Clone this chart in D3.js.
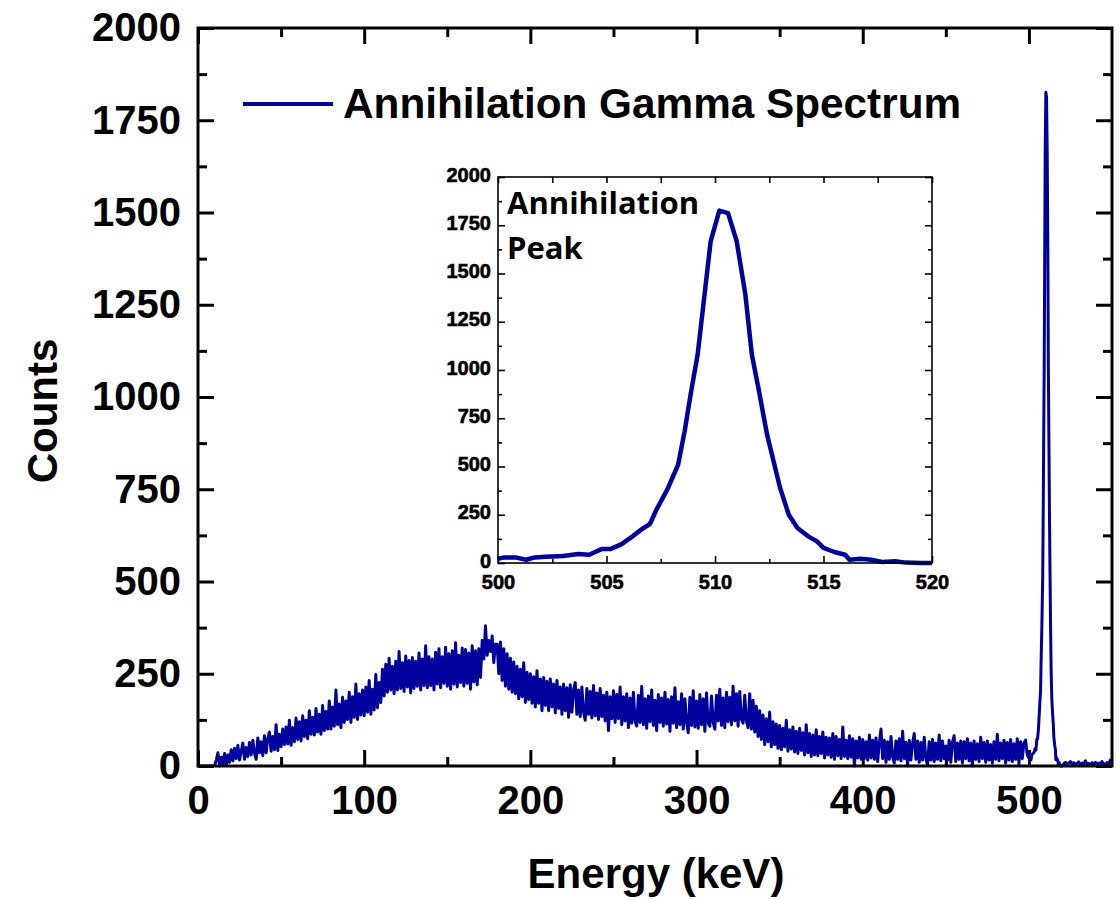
<!DOCTYPE html>
<html>
<head>
<meta charset="utf-8">
<script src="https://cdn.jsdelivr.net/npm/d3@7"></script>
<style>
  body { margin: 0; background: #fff; }
  svg { display: block; }
</style>
</head>
<body>
<svg id="chart" width="1120" height="900"></svg>
<script>
// Counts per 1 keV channel from 0 to 499 keV (Compton continuum region)
const lowCounts = [
  0, 0, 0, 0, 0, 0, 0, 0, 0, 0,
  2, 16, 36, 0, 24, 6, 34, 2, 30, 10,
  44, 14, 48, 20, 56, 16, 40, 62, 18, 50,
  26, 64, 30, 70, 34, 18, 76, 36, 66, 28,
  82, 36, 74, 92, 40, 80, 44, 112, 42, 86,
  52, 100, 58, 106, 60, 124, 56, 104, 66, 130,
  72, 120, 68, 136, 80, 124, 74, 150, 86, 132,
  84, 156, 92, 140, 86, 164, 96, 148, 100, 176,
  100, 160, 108, 206, 112, 168, 104, 186, 118, 176,
  126, 200, 118, 188, 132, 222, 126, 196, 138, 206,
  136, 214, 146, 232, 140, 208, 152, 248, 158, 226,
  172, 262, 190, 276, 200, 292, 206, 270, 196, 284,
  206, 310, 210, 280, 202, 298, 214, 286, 198, 294,
  210, 284, 216, 306, 206, 290, 218, 326, 212, 296,
  218, 290, 206, 308, 222, 318, 212, 296, 224, 322,
  216, 304, 208, 312, 222, 334, 214, 300, 226, 320,
  216, 316, 224, 306, 208, 326, 228, 312, 220, 318,
  240, 340, 290, 380, 300, 340, 310, 352, 280, 330,
  330, 250, 336, 232, 318, 216, 304, 208, 292, 200,
  282, 196, 270, 182, 262, 188, 280, 172, 254, 180,
  250, 170, 242, 160, 258, 170, 236, 150, 240, 164,
  230, 150, 236, 160, 222, 144, 232, 156, 214, 140,
  222, 150, 212, 132, 220, 146, 208, 226, 140, 206,
  134, 214, 146, 124, 210, 140, 202, 130, 218, 136,
  198, 126, 210, 134, 192, 122, 200, 96, 188, 128,
  204, 118, 194, 128, 214, 112, 188, 122, 196, 104,
  184, 116, 200, 122, 108, 192, 118, 216, 112, 182,
  102, 190, 120, 206, 110, 178, 96, 194, 118, 184,
  108, 200, 114, 180, 94, 188, 116, 212, 104, 174,
  112, 196, 100, 182, 118, 90, 186, 110, 204, 106,
  176, 102, 194, 112, 182, 94, 198, 116, 108, 190,
  118, 100, 192, 122, 208, 110, 184, 104, 200, 120,
  186, 112, 216, 122, 196, 108, 202, 126, 116, 192,
  122, 104, 196, 100, 178, 92, 162, 80, 150, 72,
  138, 58, 128, 66, 146, 52, 120, 58, 114, 48,
  110, 44, 102, 52, 124, 40, 98, 46, 106, 38,
  94, 34, 102, 42, 90, 30, 112, 36, 88, 26,
  84, 30, 98, 28, 80, 34, 92, 22, 78, 30,
  76, 24, 88, 18, 80, 28, 72, 20, 106, 26,
  70, 20, 82, 24, 74, 0, 68, 22, 78, 18,
  72, 20, 66, 16, 84, 22, 70, 18, 76, 12,
  64, 100, 20, 70, 10, 66, 18, 80, 24, 8,
  68, 18, 74, 14, 94, 20, 64, 0, 70, 16,
  62, 88, 18, 68, 10, 64, 16, 78, 20, 2,
  66, 16, 72, 12, 62, 18, 84, 14, 68, 20,
  54, 16, 70, 10, 64, 82, 12, 62, 18, 68,
  8, 66, 20, 74, 14, 62, 0, 68, 18, 60,
  12, 78, 20, 64, 10, 68, 16, 58, 8, 66,
  18, 86, 14, 62, 20, 70, 8, 64, 16, 72,
  12, 60, 18, 74, 6, 66, 20, 62, 70, 30
];

// Annihilation peak region (500–520 keV), finer sampling
const peakEnergy = [
  500.0, 500.3, 500.8, 501.3, 501.7, 502.2, 503.0, 503.7, 504.2, 504.8,
  505.2, 505.7, 506.2, 506.6, 507.0, 507.3, 507.8, 508.3, 508.6, 508.9,
  509.2, 509.5, 509.8, 510.2, 510.6, 511.0, 511.4, 511.7, 512.0, 512.4,
  512.7, 513.0, 513.4, 513.8, 514.3, 514.7, 515.0, 515.5, 516.0, 516.2,
  516.7, 517.2, 517.7, 518.3, 518.8, 519.5, 520.0
];
const peakCounts = [
  22, 29, 29, 17, 29, 33, 36, 47, 43, 73,
  73, 98, 138, 173, 202, 276, 380, 509, 682, 889,
  1079, 1373, 1667, 1826, 1813, 1667, 1390, 1079, 907, 665,
  527, 389, 250, 181, 138, 112, 78, 57, 43, 17,
  22, 17, 5, 9, 2, 0, 0
];

// Counts per 1 keV channel above the peak, 521–550 keV
const tailStart = 521;
const tailCounts = [
  6, 10, 4, 8, 12, 5, 9, 3, 7, 11,
  4, 8, 6, 14, 5, 7, 3, 9, 6, 10,
  5, 8, 4, 12, 6, 3, 9, 5, 16, 6
];

const xTicks = [0, 100, 200, 300, 400, 500];
const xMinorTicks = [50, 150, 250, 350, 450];
const yTicks = [0, 250, 500, 750, 1000, 1250, 1500, 1750, 2000];
const yMinorTicks = [125, 375, 625, 875, 1125, 1375, 1625, 1875];
const insetXTicks = [500, 505, 510, 515, 520];
const insetXMinorTicks = [502.5, 507.5, 512.5, 517.5];
const insetYTicks = [0, 250, 500, 750, 1000, 1250, 1500, 1750, 2000];
const insetYMinorTicks = [125, 375, 625, 875, 1125, 1375, 1625, 1875];

const seriesName = "Annihilation Gamma Spectrum";
const insetLabel = ["Annihilation", "Peak"];
const xTitle = "Energy (keV)";
const yTitle = "Counts";

const lineColor = "#00009c";
const fontMain = "'Liberation Sans', Arial, sans-serif";

const svg = d3.select("#chart");

// ---- full spectrum ----
const spectrum = lowCounts.map((c, i) => ({ e: i, c }))
  .concat(peakEnergy.map((e, i) => ({ e, c: peakCounts[i] })))
  .concat(tailCounts.map((c, i) => ({ e: tailStart + i, c })));

const peak = peakEnergy.map((e, i) => ({ e, c: peakCounts[i] }));

const plot = { left: 198, right: 1112, top: 28, bottom: 766 };
const x = d3.scaleLinear().domain([0, 550]).range([plot.left, plot.right]);
const y = d3.scaleLinear().domain([0, 2000]).range([plot.bottom, plot.top]);

function styleAxis(g, size) {
  g.select(".domain").remove();
  g.selectAll("line").attr("stroke", "#000").attr("stroke-width", 3);
  g.attr("font-family", fontMain).attr("font-size", size).attr("font-weight", "bold");
  g.selectAll("text").attr("fill", "#000");
}

// bottom axis with labels
svg.append("g")
  .attr("transform", `translate(0,${plot.bottom})`)
  .call(d3.axisBottom(x).tickValues(xTicks).tickSize(-16).tickPadding(20).tickFormat(d3.format("d")))
  .call(g => styleAxis(g, 40));
svg.append("g")
  .attr("transform", `translate(0,${plot.bottom})`)
  .call(d3.axisBottom(x).tickValues(xMinorTicks).tickSize(-9).tickFormat(""))
  .call(g => styleAxis(g, 40));
// top axis, ticks only
svg.append("g")
  .attr("transform", `translate(0,${plot.top})`)
  .call(d3.axisTop(x).tickValues(xTicks).tickSize(-16).tickFormat(""))
  .call(g => styleAxis(g, 40));
svg.append("g")
  .attr("transform", `translate(0,${plot.top})`)
  .call(d3.axisTop(x).tickValues(xMinorTicks).tickSize(-9).tickFormat(""))
  .call(g => styleAxis(g, 40));
// left axis with labels
svg.append("g")
  .attr("transform", `translate(${plot.left},0)`)
  .call(d3.axisLeft(y).tickValues(yTicks).tickSize(-16).tickPadding(17).tickFormat(d3.format("d")))
  .call(g => styleAxis(g, 40));
svg.append("g")
  .attr("transform", `translate(${plot.left},0)`)
  .call(d3.axisLeft(y).tickValues(yMinorTicks).tickSize(-9).tickFormat(""))
  .call(g => styleAxis(g, 40));
// right axis, ticks only
svg.append("g")
  .attr("transform", `translate(${plot.right},0)`)
  .call(d3.axisRight(y).tickValues(yTicks).tickSize(-16).tickFormat(""))
  .call(g => styleAxis(g, 40));
svg.append("g")
  .attr("transform", `translate(${plot.right},0)`)
  .call(d3.axisRight(y).tickValues(yMinorTicks).tickSize(-9).tickFormat(""))
  .call(g => styleAxis(g, 40));

// spectrum trace
const line = d3.line().x(d => x(d.e)).y(d => y(d.c));
svg.append("path")
  .datum(spectrum)
  .attr("d", line)
  .attr("fill", "none")
  .attr("stroke", lineColor)
  .attr("stroke-width", 3)
  .attr("stroke-linejoin", "round");

// frame
svg.append("rect")
  .attr("x", plot.left).attr("y", plot.top)
  .attr("width", plot.right - plot.left).attr("height", plot.bottom - plot.top)
  .attr("fill", "none").attr("stroke", "#000").attr("stroke-width", 3);

// axis titles
svg.append("text")
  .attr("x", 656).attr("y", 888)
  .attr("text-anchor", "middle")
  .attr("font-family", fontMain).attr("font-size", 42).attr("font-weight", "bold")
  .text(xTitle);
svg.append("text")
  .attr("transform", "translate(57,411) rotate(-90)")
  .attr("text-anchor", "middle")
  .attr("font-family", fontMain).attr("font-size", 42).attr("font-weight", "bold")
  .text(yTitle);

// legend
svg.append("line")
  .attr("x1", 243).attr("x2", 333).attr("y1", 104).attr("y2", 104)
  .attr("stroke", lineColor).attr("stroke-width", 4);
svg.append("text")
  .attr("x", 343).attr("y", 118)
  .attr("font-family", fontMain).attr("font-size", 42.3).attr("font-weight", "bold")
  .text(seriesName);

// ---- inset: zoom on the annihilation peak ----
const inset = { left: 498, right: 932, top: 177, bottom: 563 };
const xi = d3.scaleLinear().domain([500, 520]).range([inset.left, inset.right]);
const yi = d3.scaleLinear().domain([0, 2000]).range([inset.bottom, inset.top]);

svg.append("rect")
  .attr("x", inset.left).attr("y", inset.top)
  .attr("width", inset.right - inset.left).attr("height", inset.bottom - inset.top)
  .attr("fill", "#fff");

function styleInset(g) {
  g.select(".domain").remove();
  g.selectAll("line").attr("stroke", "#000").attr("stroke-width", 1.6);
  g.attr("font-family", fontMain).attr("font-size", 20).attr("font-weight", "bold");
  g.selectAll("text").attr("fill", "#000").attr("stroke", "#000").attr("stroke-width", 0.6);
}

svg.append("g")
  .attr("transform", `translate(0,${inset.bottom})`)
  .call(d3.axisBottom(xi).tickValues(insetXTicks).tickSize(-7).tickPadding(12).tickFormat(d3.format("d")))
  .call(styleInset);
svg.append("g")
  .attr("transform", `translate(0,${inset.bottom})`)
  .call(d3.axisBottom(xi).tickValues(insetXMinorTicks).tickSize(-4).tickFormat(""))
  .call(styleInset);
svg.append("g")
  .attr("transform", `translate(0,${inset.top})`)
  .call(d3.axisTop(xi).tickValues(insetXTicks.concat(insetXMinorTicks)).tickSize(-6).tickFormat(""))
  .call(styleInset);
svg.append("g")
  .attr("transform", `translate(${inset.left},0)`)
  .call(d3.axisLeft(yi).tickValues(insetYTicks).tickSize(-7).tickPadding(7).tickFormat(d3.format("d")))
  .call(styleInset)
  .call(g => g.selectAll("text").attr("dy", "0.2em"));
svg.append("g")
  .attr("transform", `translate(${inset.left},0)`)
  .call(d3.axisLeft(yi).tickValues(insetYMinorTicks).tickSize(-4).tickFormat(""))
  .call(styleInset);
svg.append("g")
  .attr("transform", `translate(${inset.right},0)`)
  .call(d3.axisRight(yi).tickValues(insetYTicks).tickSize(-7).tickFormat(""))
  .call(styleInset);
svg.append("g")
  .attr("transform", `translate(${inset.right},0)`)
  .call(d3.axisRight(yi).tickValues(insetYMinorTicks).tickSize(-4).tickFormat(""))
  .call(styleInset);

const lineInset = d3.line().x(d => xi(d.e)).y(d => yi(d.c));
svg.append("path")
  .datum(peak)
  .attr("d", lineInset)
  .attr("fill", "none")
  .attr("stroke", lineColor)
  .attr("stroke-width", 4.5)
  .attr("stroke-linejoin", "round");

svg.append("rect")
  .attr("x", inset.left).attr("y", inset.top)
  .attr("width", inset.right - inset.left).attr("height", inset.bottom - inset.top)
  .attr("fill", "none").attr("stroke", "#000").attr("stroke-width", 1.6);

svg.append("text")
  .attr("font-family", "'Open Sans', 'Noto Sans', sans-serif")
  .attr("font-size", 31).attr("font-weight", "bold")
  .selectAll("tspan")
  .data(insetLabel)
  .join("tspan")
  .attr("x", 507)
  .attr("y", (d, i) => 214 + i * 45)
  .text(d => d);
</script>
</body>
</html>
